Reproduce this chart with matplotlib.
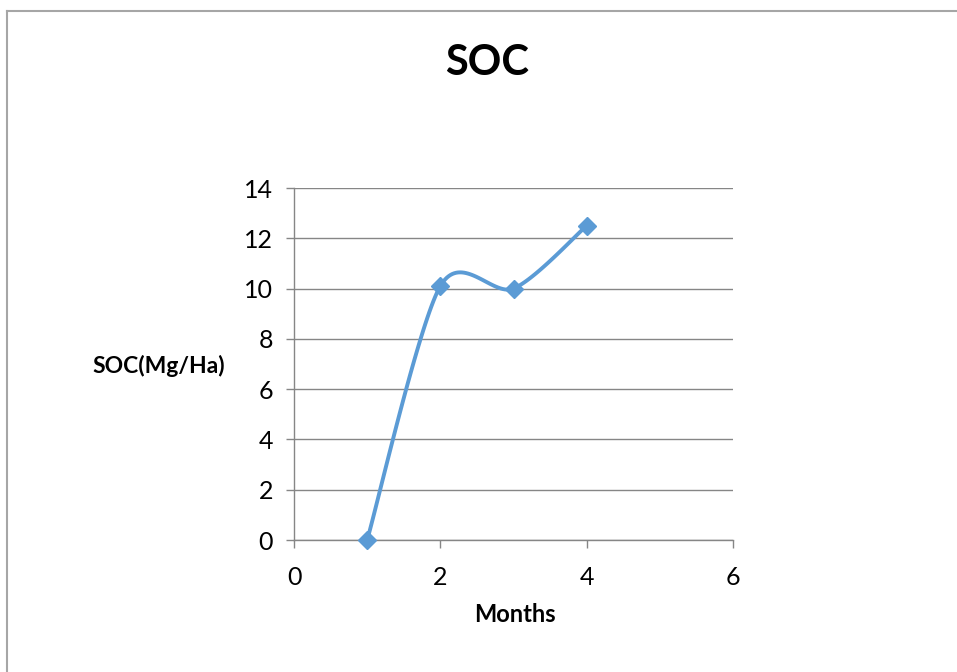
import numpy as np
import matplotlib
matplotlib.use('Agg')
import matplotlib.pyplot as plt
from matplotlib.lines import Line2D

months = [1, 2, 3, 4]
soc = [0, 10.1, 10.0, 12.5]
xticks = [0, 2, 4, 6]
yticks = [0, 2, 4, 6, 8, 10, 12, 14]

plt.rcParams['font.family'] = ['Lato', 'DejaVu Sans']


def smooth_curve(x, y, n=40, k=7.0):
    # catmull-rom style bezier through the points, ends padded by repeating the end point
    x = np.asarray(x, dtype=float)
    y = np.asarray(y, dtype=float)
    px = np.concatenate([[x[0]], x, [x[-1]]])
    py = np.concatenate([[y[0]], y, [y[-1]]])
    xs, ys = [], []
    t = np.linspace(0, 1, n)[:, None]
    for i in range(1, len(px) - 2):
        p0 = np.array([px[i], py[i]])
        p3 = np.array([px[i+1], py[i+1]])
        c1 = p0 + (np.array([px[i+1], py[i+1]]) - np.array([px[i-1], py[i-1]]))/k
        c2 = p3 - (np.array([px[i+2], py[i+2]]) - np.array([px[i], py[i]]))/k
        b = (1-t)**3*p0 + 3*(1-t)**2*t*c1 + 3*(1-t)*t**2*c2 + t**3*p3
        xs.append(b[:, 0])
        ys.append(b[:, 1])
    return np.concatenate(xs), np.concatenate(ys)


fig = plt.figure(figsize=(9.57, 6.72), dpi=100)
ax = fig.add_axes([294/957, 1-540/672, (733-294)/957, (540-188)/672])

line_color = '#5B9BD5'
grid_color = '#868686'

sx, sy = smooth_curve(months, soc)
ax.plot(sx, sy, color=line_color, lw=2.8, solid_capstyle='round', zorder=3)
ax.plot(months, soc, linestyle='none', marker='D', ms=9, color=line_color, zorder=4, clip_on=False)

ax.set_xlim(0, 6)
ax.set_ylim(0, 14)
ax.set_xticks(xticks)
ax.set_yticks(yticks)
ax.yaxis.grid(True, color=grid_color, lw=1)
ax.set_axisbelow(True)
for side in ['top', 'right']:
    ax.spines[side].set_visible(False)
for side in ['left', 'bottom']:
    ax.spines[side].set_color(grid_color)
    ax.spines[side].set_linewidth(1)
ax.tick_params(axis='both', colors=grid_color, length=6, width=1, labelsize=18, labelcolor='black')
ax.tick_params(axis='x', pad=13)
ax.tick_params(axis='y', pad=9)

fig.text(487/957, 1-63/672, 'SOC', ha='center', va='center', fontsize=30, fontweight='bold')
fig.text(159/957, 1-366/672, 'SOC(Mg/Ha)', ha='center', va='center', fontsize=16.5, fontweight='bold')
fig.text(515/957, 1-614/672, 'Months', ha='center', va='center', fontsize=17, fontweight='bold')

# chart frame
fig.add_artist(Line2D([6.5/957, 6.5/957], [0, 1-10.5/672], transform=fig.transFigure, color='#a6a6a6', lw=1.5))
fig.add_artist(Line2D([6.5/957, 1], [1-10.5/672, 1-10.5/672], transform=fig.transFigure, color='#a6a6a6', lw=1.5))

fig.savefig('out.png', dpi=100)
